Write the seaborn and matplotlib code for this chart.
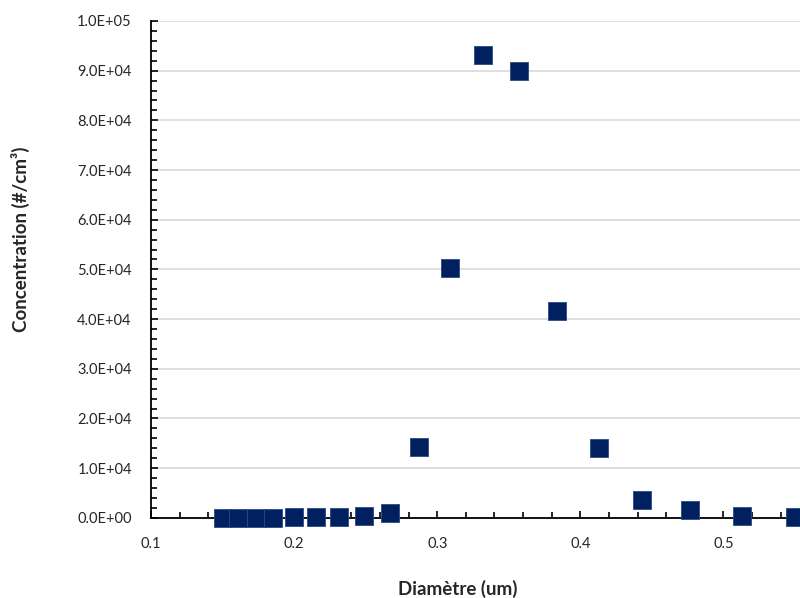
import numpy as np
import pandas as pd
import matplotlib.pyplot as plt
import seaborn as sns
from matplotlib.ticker import MultipleLocator, FixedLocator, FuncFormatter

# Data
diametre = [0.150, 0.161, 0.173, 0.185, 0.200, 0.215, 0.231, 0.249, 0.267,
            0.287, 0.309, 0.332, 0.357, 0.384, 0.413, 0.443, 0.477, 0.513, 0.550]
concentration = [20, 30, 40, 60, 80, 100, 150, 300, 900,
                 14300, 50200, 93200, 89900, 41700, 14000, 3500, 1500, 300, 100]
x_ticks = [0.1, 0.2, 0.3, 0.4, 0.5]

df = pd.DataFrame({"Diametre": diametre, "Concentration": concentration})

sns.set_style("white")
plt.rcParams['font.family'] = ['Lato', 'DejaVu Sans']

fig = plt.figure(figsize=(8, 5.98), dpi=100)
ax = fig.add_axes([0.189, 0.134, 0.894, 0.831])

sns.scatterplot(data=df, x="Diametre", y="Concentration", marker="s", s=150,
                color="#002060", edgecolor="#2a4a85", linewidth=0.6, ax=ax,
                zorder=3, clip_on=False)

ax.set_xlim(0.1, 0.6)
ax.set_ylim(0, 100000)
ax.xaxis.set_major_locator(FixedLocator(x_ticks))
ax.xaxis.set_minor_locator(MultipleLocator(0.02))
ax.yaxis.set_major_locator(MultipleLocator(10000))
ax.yaxis.set_minor_locator(MultipleLocator(2000))
ax.xaxis.set_major_formatter(FuncFormatter(lambda v, p: f"{v:g}"))
ax.yaxis.set_major_formatter(FuncFormatter(
    lambda v, p: f"{v:.1E}" if v else "0.0E+00"))

ax.grid(axis="y", color="#d9d9d9", linewidth=1.2)
ax.grid(axis="x", visible=False)
ax.set_axisbelow(True)

for s in ["top", "right"]:
    ax.spines[s].set_visible(False)
for s in ["left", "bottom"]:
    ax.spines[s].set_color("black")
    ax.spines[s].set_linewidth(1.3)

ax.tick_params(which="both", direction="in", color="black", width=1.2)
ax.tick_params(which="major", length=5, labelsize=10.5, pad=14)
ax.tick_params(which="minor", length=4)
ax.tick_params(axis="y", which="both", left=True)
ax.tick_params(axis="x", which="both", bottom=True)

ax.set_xlabel("Diamètre (um)", fontsize=13.5, fontweight="bold")
ax.set_ylabel("Concentration (#/cm³)", fontsize=13.5, fontweight="bold")
ax.xaxis.set_label_coords(0.429, -0.125)
ax.yaxis.set_label_coords(-0.17, 0.56)

fig.savefig("out.png", dpi=100)
